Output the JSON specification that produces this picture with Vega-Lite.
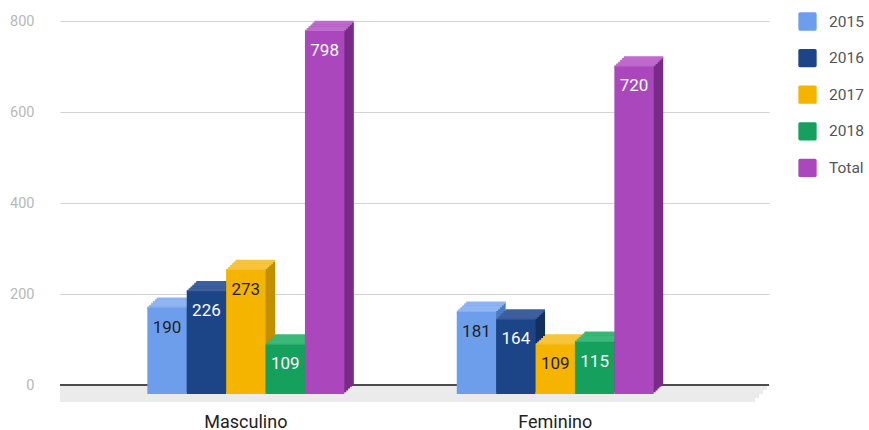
{
  "$schema": "https://vega.github.io/schema/vega-lite/v6.json",
  "autosize": {"type": "none"},
  "width": 709,
  "height": 364,
  "padding": {"left": 60, "top": 21, "right": 100, "bottom": 45},
  "background": "white",
  "config": {
    "font": "Roboto",
    "view": {"stroke": null},
    "axisY": {"grid": true, "gridColor": "#d3d3d3", "gridWidth": 1, "domain": false, "ticks": false, "labelColor": "#b8b8b8", "labelFontSize": 14.5, "labelPadding": 26, "tickCount": 5},
    "axisX": {"grid": false, "domain": false, "ticks": false, "labelAngle": 0, "labelColor": "#222222", "labelFontSize": 18, "labelPadding": 37, "labelOffset": -9.5, "labelBaseline": "middle"}
  },
  "data": {
    "values": [
      {"sexo": "Masculino", "serie": "2015", "valor": 190},
      {"sexo": "Masculino", "serie": "2016", "valor": 226},
      {"sexo": "Masculino", "serie": "2017", "valor": 273},
      {"sexo": "Masculino", "serie": "2018", "valor": 109},
      {"sexo": "Masculino", "serie": "Total", "valor": 798},
      {"sexo": "Feminino", "serie": "2015", "valor": 181},
      {"sexo": "Feminino", "serie": "2016", "valor": 164},
      {"sexo": "Feminino", "serie": "2017", "valor": 109},
      {"sexo": "Feminino", "serie": "2018", "valor": 115},
      {"sexo": "Feminino", "serie": "Total", "valor": 720}
    ]
  },
  "resolve": {"scale": {"xOffset": "independent"}},
  "layer": [
    {"mark": {"type": "rule", "color": "#ebebeb", "strokeWidth": 4.4, "xOffset": -2, "x2Offset": -2, "yOffset": 2.1}, "encoding": {"y": {"datum": 0, "type": "quantitative", "scale": {"domain": [0, 800], "nice": false}, "title": null}}},
    {"mark": {"type": "rule", "color": "#ebebeb", "strokeWidth": 4.4, "xOffset": -6, "x2Offset": -6, "yOffset": 6.4}, "encoding": {"y": {"datum": 0, "type": "quantitative"}}},
    {"mark": {"type": "rule", "color": "#ebebeb", "strokeWidth": 4.4, "xOffset": -10, "x2Offset": -10, "yOffset": 10.6}, "encoding": {"y": {"datum": 0, "type": "quantitative"}}},
    {"mark": {"type": "rule", "color": "#ebebeb", "strokeWidth": 4.4, "xOffset": -14, "x2Offset": -14, "yOffset": 14.9}, "encoding": {"y": {"datum": 0, "type": "quantitative"}}},
    {"mark": {"type": "rule", "color": "#4d4d4d", "strokeWidth": 1.5}, "encoding": {"y": {"datum": 0, "type": "quantitative"}}},

    {"mark": {"type": "bar", "yOffset": 0, "y2Offset": 0},
     "encoding": {
       "x": {"field": "sexo", "type": "nominal", "sort": ["Masculino", "Feminino"], "scale": {"paddingInner": 0.3633, "paddingOuter": 0.3274, "align": 0.478}, "title": null},
       "xOffset": {"field": "serie", "type": "nominal", "sort": ["2015", "2016", "2017", "2018", "Total"], "scale": {"paddingInner": 0, "paddingOuter": 0, "range": [{"expr": "0"}, {"expr": "bandwidth('x')"}]}},
       "y": {"field": "valor", "type": "quantitative", "title": null},
       "fill": {"field": "serie", "type": "nominal", "scale": {"domain": ["2015", "2016", "2017", "2018", "Total"], "range": ["#4a7bc4", "#13305f", "#c28f00", "#0c7c45", "#7a2a88"]}, "legend": null}
     }},
    {"mark": {"type": "bar", "yOffset": 1.8, "y2Offset": 1.8},
     "encoding": {
       "x": {"field": "sexo", "type": "nominal", "sort": ["Masculino", "Feminino"], "title": null},
       "xOffset": {"field": "serie", "type": "nominal", "sort": ["2015", "2016", "2017", "2018", "Total"], "scale": {"paddingInner": 0, "paddingOuter": 0, "range": [{"expr": "-1.9"}, {"expr": "bandwidth('x')-1.9"}]}},
       "y": {"field": "valor", "type": "quantitative", "title": null},
       "fill": {"field": "serie", "type": "nominal", "legend": null}
     }},
    {"mark": {"type": "bar", "yOffset": 3.6, "y2Offset": 3.6},
     "encoding": {
       "x": {"field": "sexo", "type": "nominal", "sort": ["Masculino", "Feminino"], "title": null},
       "xOffset": {"field": "serie", "type": "nominal", "sort": ["2015", "2016", "2017", "2018", "Total"], "scale": {"paddingInner": 0, "paddingOuter": 0, "range": [{"expr": "-3.8"}, {"expr": "bandwidth('x')-3.8"}]}},
       "y": {"field": "valor", "type": "quantitative", "title": null},
       "fill": {"field": "serie", "type": "nominal", "legend": null}
     }},
    {"mark": {"type": "bar", "yOffset": 5.4, "y2Offset": 5.4},
     "encoding": {
       "x": {"field": "sexo", "type": "nominal", "sort": ["Masculino", "Feminino"], "title": null},
       "xOffset": {"field": "serie", "type": "nominal", "sort": ["2015", "2016", "2017", "2018", "Total"], "scale": {"paddingInner": 0, "paddingOuter": 0, "range": [{"expr": "-5.7"}, {"expr": "bandwidth('x')-5.7"}]}},
       "y": {"field": "valor", "type": "quantitative", "title": null},
       "fill": {"field": "serie", "type": "nominal", "legend": null}
     }},
    {"mark": {"type": "bar", "yOffset": 7.2, "y2Offset": 7.2},
     "encoding": {
       "x": {"field": "sexo", "type": "nominal", "sort": ["Masculino", "Feminino"], "title": null},
       "xOffset": {"field": "serie", "type": "nominal", "sort": ["2015", "2016", "2017", "2018", "Total"], "scale": {"paddingInner": 0, "paddingOuter": 0, "range": [{"expr": "-7.6"}, {"expr": "bandwidth('x')-7.6"}]}},
       "y": {"field": "valor", "type": "quantitative", "title": null},
       "fill": {"field": "serie", "type": "nominal", "legend": null}
     }},

    {"mark": {"type": "bar", "filled": false, "strokeWidth": 2.2, "strokeJoin": "bevel", "yOffset": 0, "y2Offset": 0},
     "encoding": {
       "x": {"field": "sexo", "type": "nominal", "sort": ["Masculino", "Feminino"], "title": null},
       "xOffset": {"field": "serie", "type": "nominal", "sort": ["2015", "2016", "2017", "2018", "Total"], "scale": {"paddingInner": 0, "paddingOuter": 0, "range": [{"expr": "0"}, {"expr": "bandwidth('x')"}]}},
       "y": {"field": "valor", "type": "quantitative", "title": null},
       "y2": {"field": "valor"},
       "stroke": {"field": "serie", "type": "nominal", "scale": {"domain": ["2015", "2016", "2017", "2018", "Total"], "range": ["#8fb6f3", "#3d5f9e", "#f8c43c", "#3cb878", "#bf6bcd"]}, "legend": null}
     }},
    {"mark": {"type": "bar", "filled": false, "strokeWidth": 2.2, "strokeJoin": "bevel", "yOffset": 1.8, "y2Offset": 1.8},
     "encoding": {
       "x": {"field": "sexo", "type": "nominal", "sort": ["Masculino", "Feminino"], "title": null},
       "xOffset": {"field": "serie", "type": "nominal", "sort": ["2015", "2016", "2017", "2018", "Total"], "scale": {"paddingInner": 0, "paddingOuter": 0, "range": [{"expr": "-1.9"}, {"expr": "bandwidth('x')-1.9"}]}},
       "y": {"field": "valor", "type": "quantitative", "title": null},
       "y2": {"field": "valor"},
       "stroke": {"field": "serie", "type": "nominal", "legend": null}
     }},
    {"mark": {"type": "bar", "filled": false, "strokeWidth": 2.2, "strokeJoin": "bevel", "yOffset": 3.6, "y2Offset": 3.6},
     "encoding": {
       "x": {"field": "sexo", "type": "nominal", "sort": ["Masculino", "Feminino"], "title": null},
       "xOffset": {"field": "serie", "type": "nominal", "sort": ["2015", "2016", "2017", "2018", "Total"], "scale": {"paddingInner": 0, "paddingOuter": 0, "range": [{"expr": "-3.8"}, {"expr": "bandwidth('x')-3.8"}]}},
       "y": {"field": "valor", "type": "quantitative", "title": null},
       "y2": {"field": "valor"},
       "stroke": {"field": "serie", "type": "nominal", "legend": null}
     }},
    {"mark": {"type": "bar", "filled": false, "strokeWidth": 2.2, "strokeJoin": "bevel", "yOffset": 5.4, "y2Offset": 5.4},
     "encoding": {
       "x": {"field": "sexo", "type": "nominal", "sort": ["Masculino", "Feminino"], "title": null},
       "xOffset": {"field": "serie", "type": "nominal", "sort": ["2015", "2016", "2017", "2018", "Total"], "scale": {"paddingInner": 0, "paddingOuter": 0, "range": [{"expr": "-5.7"}, {"expr": "bandwidth('x')-5.7"}]}},
       "y": {"field": "valor", "type": "quantitative", "title": null},
       "y2": {"field": "valor"},
       "stroke": {"field": "serie", "type": "nominal", "legend": null}
     }},
    {"mark": {"type": "bar", "filled": false, "strokeWidth": 2.2, "strokeJoin": "bevel", "yOffset": 7.2, "y2Offset": 7.2},
     "encoding": {
       "x": {"field": "sexo", "type": "nominal", "sort": ["Masculino", "Feminino"], "title": null},
       "xOffset": {"field": "serie", "type": "nominal", "sort": ["2015", "2016", "2017", "2018", "Total"], "scale": {"paddingInner": 0, "paddingOuter": 0, "range": [{"expr": "-7.6"}, {"expr": "bandwidth('x')-7.6"}]}},
       "y": {"field": "valor", "type": "quantitative", "title": null},
       "y2": {"field": "valor"},
       "stroke": {"field": "serie", "type": "nominal", "legend": null}
     }},
    {"mark": {"type": "bar", "filled": false, "strokeWidth": 2.2, "strokeJoin": "bevel", "yOffset": 9, "y2Offset": 9},
     "encoding": {
       "x": {"field": "sexo", "type": "nominal", "sort": ["Masculino", "Feminino"], "title": null},
       "xOffset": {"field": "serie", "type": "nominal", "sort": ["2015", "2016", "2017", "2018", "Total"], "scale": {"paddingInner": 0, "paddingOuter": 0, "range": [{"expr": "-9.5"}, {"expr": "bandwidth('x')-9.5"}]}},
       "y": {"field": "valor", "type": "quantitative", "title": null},
       "y2": {"field": "valor"},
       "stroke": {"field": "serie", "type": "nominal", "legend": null}
     }},

    {"mark": {"type": "bar", "yOffset": 9, "y2Offset": 9},
     "encoding": {
       "x": {"field": "sexo", "type": "nominal", "sort": ["Masculino", "Feminino"], "title": null},
       "xOffset": {"field": "serie", "type": "nominal", "sort": ["2015", "2016", "2017", "2018", "Total"], "scale": {"paddingInner": 0, "paddingOuter": 0, "range": [{"expr": "-9.5"}, {"expr": "bandwidth('x')-9.5"}]}},
       "y": {"field": "valor", "type": "quantitative", "title": null},
       "color": {"field": "serie", "type": "nominal",
         "scale": {"range": ["#6d9eeb", "#1c4587", "#f4b400", "#16a05d", "#ab47bc"]},
         "legend": {"orient": "none", "legendX": 738, "legendY": -9, "title": null, "padding": 0,
           "symbolType": "M-0.82,-1H0.82Q1,-1 1,-0.82V0.82Q1,1 0.82,1H-0.82Q-1,1 -1,0.82V-0.82Q-1,-1 -0.82,-1Z",
           "symbolSize": 335, "symbolStrokeWidth": 0, "symbolOpacity": 1,
           "labelFontSize": 15.5, "labelColor": "#555555", "labelOffset": 12, "rowPadding": 17.6}}
     }},

    {"mark": {"type": "text", "fontSize": 17, "baseline": "middle", "align": "center", "yOffset": 29},
     "encoding": {
       "x": {"field": "sexo", "type": "nominal", "sort": ["Masculino", "Feminino"], "title": null},
       "xOffset": {"field": "serie", "type": "nominal", "sort": ["2015", "2016", "2017", "2018", "Total"], "scale": {"type": "point", "padding": 0.5, "range": [{"expr": "-9.5"}, {"expr": "bandwidth('x')-9.5"}]}},
       "y": {"field": "valor", "type": "quantitative", "title": null},
       "text": {"field": "valor", "type": "quantitative"},
       "color": {"condition": {"test": "datum.serie === '2015' || datum.serie === '2017'", "value": "#1f1f1f"}, "value": "#ffffff"}
     }}
  ]
}
